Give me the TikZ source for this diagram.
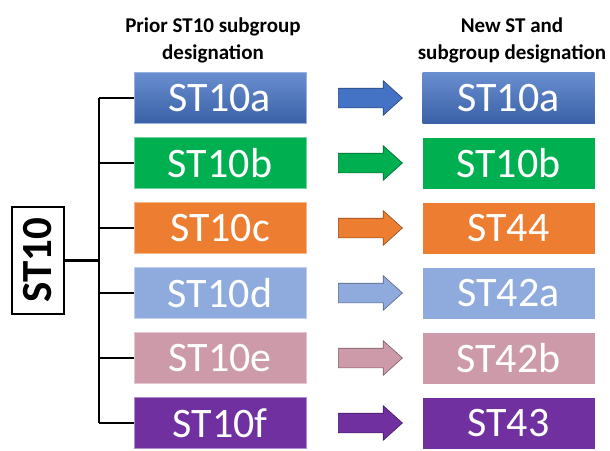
\documentclass[tikz,border=0pt]{standalone}
\usepackage{fontspec}
\setmainfont{Carlito}
\usetikzlibrary{shapes.arrows}

\definecolor{stblue}{HTML}{4472C4}
\definecolor{stgreen}{HTML}{00B050}
\definecolor{storange}{HTML}{ED7D31}
\definecolor{stlight}{HTML}{8FAADC}
\definecolor{stpink}{HTML}{CD9AA9}
\definecolor{stpurple}{HTML}{7030A0}

\tikzset{
  grp/.style={minimum width=172pt, minimum height=51pt, inner sep=0pt,
    text=white, font=\fontsize{42}{42}\selectfont},
  oldgrp/.style={grp, fill=#1, draw=#1!55!white, line width=1pt},
  newgrp/.style={grp, fill=#1},
  shift/.style={single arrow, fill=#1, draw=#1!60!black, line width=0.6pt,
    minimum height=64pt, inner xsep=0pt, inner ysep=9.5pt,
    single arrow head extend=7.5pt, single arrow tip angle=84},
  head/.style={font=\fontsize{21}{27}\selectfont\bfseries, align=center},
  tree/.style={line width=2.4pt}
}

\begin{document}
\begin{tikzpicture}[x=1pt,y=-1pt]
\useasboundingbox (0,0) rectangle (610,450);

% column titles
\node[head] (hold) at (213,40) {Prior ST10 subgroup\\designation};
\node[head] (hnew) at (512,40) {New ST and\\subgroup designation};

% the parent type
\node[draw, line width=1.3pt, minimum width=52pt, minimum height=107pt, inner sep=0pt,
  font=\fontsize{43}{43}\selectfont\bfseries] (st) at (38,260.5) {\rotatebox{90}{ST10}};

% prior subgroups
\node[oldgrp=stblue, top color=stblue!80!white, bottom color=stblue!85!black] (a) at (220,98) {ST10a};
\node[oldgrp=stgreen] (b) at (220,163) {ST10b};
\node[oldgrp=storange] (c) at (220,228) {ST10c};
\node[oldgrp=stlight] (d) at (220,293) {ST10d};
\node[oldgrp=stpink] (e) at (220,358) {ST10e};
\node[oldgrp=stpurple] (f) at (220,423) {ST10f};

% new designations
\node[newgrp=stblue, top color=stblue!80!white, bottom color=stblue!85!black] (na) at (508.5,98) {ST10a};
\node[newgrp=stgreen] (nb) at (508.5,163) {ST10b};
\node[newgrp=storange] (nc) at (508.5,228) {ST44};
\node[newgrp=stlight] (nd) at (508.5,293) {ST42a};
\node[newgrp=stpink] (ne) at (508.5,358) {ST42b};
\node[newgrp=stpurple] (nf) at (508.5,423) {ST43};

% block arrows
\node[shift=stblue] (ra) at (365,98) {};
\node[shift=stgreen] (rb) at (365,163) {};
\node[shift=storange] (rc) at (365,228) {};
\node[shift=stlight] (rd) at (365,293) {};
\node[shift=stpink] (re) at (365,358) {};
\node[shift=stpurple] (rf) at (365,423) {};

% tree
\coordinate (trunk) at (99,260.5);
\draw[tree] (st.east) -- (trunk);
\draw[tree] (trunk |- a.west) -- (trunk |- f.west);
\draw[tree] (trunk |- a.west) -- (a.west);
\draw[tree] (trunk |- b.west) -- (b.west);
\draw[tree] (trunk |- c.west) -- (c.west);
\draw[tree] (trunk |- d.west) -- (d.west);
\draw[tree] (trunk |- e.west) -- (e.west);
\draw[tree] (trunk |- f.west) -- (f.west);
\end{tikzpicture}
\end{document}
